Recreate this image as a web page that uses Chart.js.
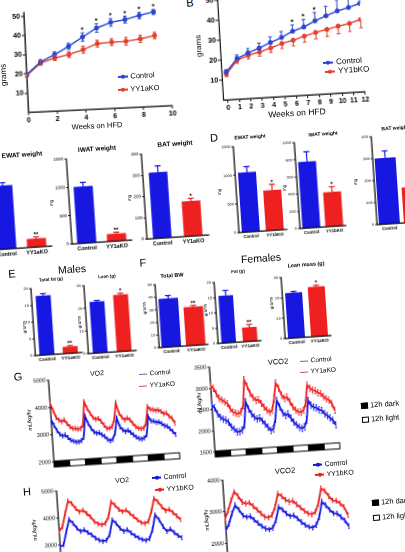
<!DOCTYPE html>
<html>
<head>
<meta charset="utf-8">
<title>YY1 knockout phenotypes</title>
<script src="https://cdn.jsdelivr.net/npm/chart.js@4.4.1/dist/chart.umd.min.js"></script>
<style>
  html, body { margin: 0; padding: 0; background: #fff; }
  body { position: relative; width: 405px; height: 552px; overflow: hidden; font-family: "Liberation Sans", Arial, sans-serif; }
  .pan { position: absolute; }
  .pan canvas { position: absolute; left: 0; top: 0; }
  .txt { position: absolute; white-space: nowrap; line-height: 1; color: #000; }
</style>
</head>
<body>
<script>
// ---------- data ----------
// A: body weight on HFD, YY1aKO males
var weeksA = [0, 1, 2, 3, 4, 5, 6, 7, 8, 9];
var ctrlA = [19.6, 25.9, 29.3, 33.3, 37.8, 42.1, 44.7, 45.8, 47.6, 49.1];
var ctrlErrA = [0.8, 1.2, 1.5, 1.6, 2.2, 2.2, 2.0, 1.8, 1.7, 1.3];
var koA = [19.1, 25.3, 27.6, 29.0, 31.2, 34.0, 34.4, 34.5, 35.4, 36.8];
var koErrA = [0.8, 1.2, 1.3, 1.5, 1.8, 1.8, 1.8, 2.0, 1.9, 1.7];
var starsA = ['', '', '', '', '*', '*', '*', '*', '*', '*'];
var weekTicksA = [0, 2, 4, 6, 8, 10];
var gramTicks = [10, 20, 30, 40, 50];

// B: body weight on HFD, YY1bKO
var weeksB = [0, 1, 2, 3, 4, 5, 6, 7, 8, 9, 10, 11, 12];
var ctrlB = [13.9, 20.3, 22.8, 24.9, 27.3, 29.5, 32.3, 34.1, 36.8, 39.0, 41.1, 42.5, 44.2];
var ctrlErrB = [1.2, 1.8, 2.2, 2.5, 2.8, 3.0, 3.2, 3.8, 4.2, 4.8, 5.5, 5.5, 5.0];
var koB = [12.8, 19.5, 21.6, 22.9, 24.6, 26.5, 27.8, 29.5, 31.0, 32.2, 33.5, 34.5, 36.2];
var koErrB = [1.2, 1.5, 1.8, 2.0, 2.2, 2.5, 2.8, 3.0, 3.2, 3.5, 3.8, 4.0, 4.2];
var starsB = ['', '', '', '', '', '', '*', '*', '*', '', '', '', ''];
var weekTicksB = [0, 1, 2, 3, 4, 5, 6, 7, 8, 9, 10, 11, 12];

// C / D / E / F: fat pad weights and body composition
var groupsA = ['Control', 'YY1aKO'];
var groupsB = ['Control', 'YY1bKO'];
var ewatA = [1120, 150], ewatAErr = [50, 30];
var iwatA = [1000, 130], iwatAErr = [70, 25];
var batA = [310, 165], batAErr = [30, 12];
var ewatB = [1040, 700], ewatBErr = [100, 100];
var iwatB = [770, 400], iwatBErr = [115, 60];
var batB = [300, 160], batBErr = [32, 20];
var fatMale = [17.7, 2.0], fatMaleErr = [0.6, 0.3];
var leanMale = [22.6, 25.0], leanMaleErr = [0.5, 0.6];
var bwFemale = [38.5, 30.6], bwFemaleErr = [2.3, 1.0];
var fatFemale = [15.5, 4.6], fatFemaleErr = [1.7, 0.9];
var leanFemale = [22.2, 24.4], leanFemaleErr = [0.6, 0.7];
var sig1 = ['', '*'], sig2 = ['', '**'];
var mgTicks1500 = [0, 500, 1000, 1500];
var mgTicks1000 = [0, 200, 400, 600, 800, 1000];
var mgTicks400 = [0, 100, 200, 300, 400];
var gTicks20 = [0, 5, 10, 15, 20];
var gTicks30 = [0, 10, 20, 30];
var gTicks50 = [0, 10, 20, 30, 40, 50];

// G: indirect calorimetry, YY1aKO (hours)
var hoursG = [0, 2, 4, 6, 8, 10, 12, 14, 16, 18, 20, 22, 24, 26, 28, 30, 32, 34, 36, 38, 40, 42, 44, 46,
  48, 50, 52, 54, 56, 58, 60, 62, 64, 66, 68, 70, 72, 74, 76, 78, 80, 82, 84, 86, 88, 90, 92, 94];
var vo2CtrlG = [3560, 3340, 3140, 3000, 2930, 2960, 2860, 2760, 2720, 2680, 2680, 2710, 2830, 3600, 3330, 3140,
  3010, 2950, 2960, 2880, 2810, 2700, 2640, 2690, 2910, 3450, 3130, 3010, 2940, 2980, 2890, 2800,
  2710, 2650, 2630, 2660, 2770, 3440, 3270, 3250, 3200, 3210, 3140, 3060, 3030, 2930, 2830, 2710];
var vo2KoG = [4150, 3890, 3620, 3520, 3460, 3510, 3370, 3250, 3180, 3180, 3140, 3160, 3280, 4120, 3880, 3690,
  3530, 3460, 3490, 3370, 3230, 3100, 3100, 3150, 3400, 4000, 3620, 3470, 3370, 3430, 3360, 3220,
  3100, 3030, 3010, 3020, 3190, 3800, 3690, 3670, 3640, 3650, 3590, 3500, 3520, 3390, 3320, 3130];
var vco2CtrlG = [2600, 2540, 2390, 2310, 2260, 2230, 2180, 2060, 2010, 1940, 1940, 1970, 2090, 2630, 2460, 2340,
  2260, 2210, 2230, 2160, 2080, 2000, 1920, 1950, 2180, 2620, 2460, 2310, 2250, 2280, 2180, 2080,
  2010, 1950, 1920, 1950, 2110, 2570, 2450, 2400, 2380, 2330, 2310, 2230, 2180, 2120, 2060, 1950];
var vco2KoG = [3050, 3000, 2870, 2750, 2710, 2660, 2620, 2490, 2410, 2380, 2360, 2400, 2550, 3150, 2990, 2820,
  2720, 2650, 2660, 2570, 2480, 2400, 2350, 2390, 2660, 3030, 2900, 2730, 2650, 2680, 2560, 2440,
  2360, 2310, 2300, 2340, 2500, 2930, 2850, 2800, 2780, 2730, 2710, 2630, 2580, 2540, 2460, 2290];
var phaseEdgesG = [0, 12, 24, 36, 48, 60, 72, 84, 96];
var phaseDarkG = [1, 0, 1, 0, 1, 0, 1, 0];

// H: indirect calorimetry, YY1bKO (hours)
var hoursH = [0, 2, 4, 6, 8, 10, 12, 14, 16, 18, 20, 22, 24, 26, 28, 30, 32, 34,
  36, 38, 40, 42, 44, 46, 48, 50, 52, 54, 56, 58, 60, 62, 64, 66, 68];
var vo2CtrlH = [2930, 3000, 3480, 3920, 3770, 3580, 3450, 3500, 3390, 3300, 3170, 3080, 3030, 3060, 3260, 3800, 3660, 3470,
  3350, 3400, 3270, 3160, 3070, 3000, 2960, 3010, 3340, 3880, 3690, 3430, 3240, 3320, 3180, 3060, 2970];
var vo2KoH = [3500, 3670, 4150, 4600, 4510, 4310, 4180, 4230, 4100, 3970, 3780, 3690, 3640, 3690, 3930, 4470, 4340, 4170,
  4080, 4130, 4000, 3870, 3740, 3630, 3590, 3650, 4010, 4490, 4360, 4160, 4010, 4050, 3920, 3790, 3640];
var vco2CtrlH = [2400, 2610, 2930, 3180, 3030, 2840, 2780, 2800, 2680, 2570, 2460, 2380, 2340, 2390, 2620, 3040, 2940, 2810,
  2720, 2740, 2630, 2510, 2410, 2340, 2310, 2380, 2630, 3110, 2990, 2840, 2720, 2710, 2590, 2470, 2280];
var vco2KoH = [2780, 3030, 3350, 3610, 3460, 3270, 3210, 3230, 3110, 2990, 2870, 2750, 2720, 2790, 3050, 3460, 3370, 3250,
  3180, 3200, 3080, 2970, 2860, 2770, 2730, 2800, 3060, 3530, 3450, 3270, 3130, 3110, 3020, 2900, 2630];
var vo2Ticks = [2000, 3000, 4000, 5000];
var vco2TicksG = [1500, 2000, 2500, 3000, 3500];
var vco2TicksH = [2000, 3000, 4000];

// ---------- styling ----------
var BLUE = '#1717e2';
var RED = '#ee2020';
var LBLUE = '#2a45d2';
var LRED = '#e2412e';
var FAMILY = '"Liberation Sans", Arial, sans-serif';
var TILT = -3.8;

Chart.defaults.font.family = FAMILY;
Chart.defaults.color = '#000';
Chart.defaults.animation = false;
Chart.defaults.events = [];
Chart.defaults.plugins.legend.display = false;
Chart.defaults.plugins.tooltip.enabled = false;

// error bars and significance marks, placed with the y scale
var errorBars = {
  id: 'errorBars',
  afterDatasetsDraw: function (chart) {
    var ctx = chart.ctx;
    var y = chart.scales.y;
    chart.data.datasets.forEach(function (ds, i) {
      if (ds.err == null) return;
      var meta = chart.getDatasetMeta(i);
      meta.data.forEach(function (el, j) {
        var raw = ds.data[j];
        var v = typeof raw === 'object' ? raw.y : raw;
        var e = Array.isArray(ds.err) ? ds.err[j] : ds.err;
        var col = Array.isArray(ds.backgroundColor) ? ds.backgroundColor[j] : ds.borderColor;
        var hi = y.getPixelForValue(v + e);
        var lo = y.getPixelForValue(v - e);
        var dir = ds.errDir || 'both';
        var cap = ds.capW || 2;
        ctx.save();
        ctx.strokeStyle = col;
        ctx.lineWidth = ds.errWidth || 1;
        ctx.beginPath();
        ctx.moveTo(el.x, dir === 'down' ? el.y : hi);
        ctx.lineTo(el.x, dir === 'up' ? el.y : lo);
        if (dir !== 'down') { ctx.moveTo(el.x - cap, hi); ctx.lineTo(el.x + cap, hi); }
        if (dir !== 'up') { ctx.moveTo(el.x - cap, lo); ctx.lineTo(el.x + cap, lo); }
        ctx.stroke();
        if (ds.stars && ds.stars[j]) {
          ctx.fillStyle = '#000';
          ctx.font = 'bold ' + ds.starSize + 'px ' + FAMILY;
          ctx.textAlign = 'center';
          ctx.textBaseline = 'bottom';
          ctx.fillText(ds.stars[j], el.x, (dir === 'down' ? el.y : hi) + 1);
        }
        ctx.restore();
      });
    });
  }
};

// the 12h dark / light strip under the calorimetry traces
function lightDark(edges, dark) {
  return {
    id: 'lightDark',
    afterDraw: function (chart) {
      var ctx = chart.ctx, a = chart.chartArea, x = chart.scales.x;
      ctx.save();
      ctx.strokeStyle = '#000';
      ctx.lineWidth = 1;
      for (var i = 0; i < dark.length; i++) {
        var x1 = x.getPixelForValue(edges[i]);
        var x2 = x.getPixelForValue(edges[i + 1]);
        ctx.fillStyle = dark[i] ? '#000' : '#fff';
        ctx.fillRect(x1, a.bottom - 1, x2 - x1, 6);
        ctx.strokeRect(x1, a.bottom - 1, x2 - x1, 6);
      }
      ctx.restore();
    }
  };
}

function geo(o) {
  return Object.assign({ ml: 16, mr: 4, mt: 6, mb: 10, rot: TILT }, o);
}

// put a chart on the page so that its plot area is centred on (cx, cy)
function mount(g, config) {
  var W = g.ml + g.pw + g.mr, H = g.mt + g.ph + g.mb;
  var box = document.createElement('div');
  box.className = 'pan';
  box.style.left = (g.cx - g.pw / 2 - g.ml) + 'px';
  box.style.top = (g.cy - g.ph / 2 - g.mt) + 'px';
  box.style.width = W + 'px';
  box.style.height = H + 'px';
  box.style.transformOrigin = (g.ml + g.pw / 2) + 'px ' + (g.mt + g.ph / 2) + 'px';
  box.style.transform = 'rotate(' + g.rot + 'deg)';
  var cv = document.createElement('canvas');
  cv.width = W; cv.height = H;
  cv.style.width = W + 'px'; cv.style.height = H + 'px';
  box.appendChild(cv);
  document.body.appendChild(box);
  config.options.responsive = false;
  config.options.devicePixelRatio = 2;
  config.options.layout = { padding: { top: g.mt, right: g.mr, left: 0, bottom: 0 } };
  config.options.scales.x.afterFit = function (s) { s.height = g.mb; };
  config.options.scales.y.afterFit = function (s) { s.width = g.ml; };
  return new Chart(cv, config);
}

function plain(v) { return String(v); }

function yAxis(min, max, ticks, size, bold) {
  return {
    min: min, max: max,
    afterBuildTicks: function (s) { s.ticks = ticks.map(function (v) { return { value: v }; }); },
    grid: { drawOnChartArea: false, color: '#000', tickLength: 2, lineWidth: 0.8 },
    border: { color: '#000', width: 1.2 },
    ticks: { font: { size: size, weight: bold ? 'bold' : 'normal' }, padding: 1, callback: plain }
  };
}

function barPanel(g, groups, vals, errs, stars, yMax, yTicks, barPct, fy, fx) {
  return mount(g, {
    type: 'bar',
    data: {
      labels: groups,
      datasets: [{
        data: vals, backgroundColor: [BLUE, RED], borderWidth: 0,
        barPercentage: barPct, categoryPercentage: 1,
        err: errs, errDir: 'up', errWidth: 1.2, capW: 3, stars: stars, starSize: 6
      }]
    },
    options: {
      scales: {
        x: {
          grid: { display: false, drawTicks: false },
          border: { color: '#000', width: 1.2 },
          ticks: { font: { size: fx, weight: 'bold' }, padding: 2, maxRotation: 0, autoSkip: false }
        },
        y: yAxis(0, yMax, yTicks, fy, false)
      }
    },
    plugins: [errorBars]
  });
}

function growthPanel(g, weeks, ctrl, ctrlErr, ko, koErr, stars, dirs, xMin, xMax, xTicks, starSize) {
  function pts(arr) { return weeks.map(function (w, i) { return { x: w, y: arr[i] }; }); }
  return mount(g, {
    type: 'line',
    data: {
      datasets: [
        { data: pts(ctrl), borderColor: LBLUE, backgroundColor: LBLUE, borderWidth: 1.4, pointRadius: 1.8,
          err: ctrlErr, errDir: dirs[0], capW: 1.8, stars: stars, starSize: starSize },
        { data: pts(ko), borderColor: LRED, backgroundColor: LRED, borderWidth: 1.4, pointRadius: 1.8,
          err: koErr, errDir: dirs[1], capW: 1.8 }
      ]
    },
    options: {
      scales: {
        x: {
          type: 'linear', min: xMin, max: xMax,
          afterBuildTicks: function (s) { s.ticks = xTicks.map(function (v) { return { value: v }; }); },
          grid: { drawOnChartArea: false, color: '#000', tickLength: 3, lineWidth: 0.9 },
          border: { color: '#000', width: 1.3 },
          ticks: { font: { size: 7, weight: 'bold' }, padding: 1, maxRotation: 0, autoSkip: false, callback: plain }
        },
        y: Object.assign(yAxis(0, 52, gramTicks, 7, true), {
          grid: { drawOnChartArea: false, color: '#000', tickLength: 3, lineWidth: 0.9 },
          border: { color: '#000', width: 1.3 }
        })
      }
    },
    plugins: [errorBars]
  });
}

function timePanel(g, hours, ctrl, ko, xMax, yMin, yMax, yTicks, extra) {
  function pts(arr) { return hours.map(function (h, i) { return { x: h, y: arr[i] }; }); }
  return mount(g, {
    type: 'line',
    data: {
      datasets: [
        { data: pts(ko), borderColor: RED, borderWidth: 1.8, pointRadius: 0, err: 75, errDir: 'both', errWidth: 0.8, capW: 0.8 },
        { data: pts(ctrl), borderColor: BLUE, borderWidth: 1.8, pointRadius: 0, err: 75, errDir: 'both', errWidth: 0.8, capW: 0.8 }
      ]
    },
    options: {
      scales: {
        x: { type: 'linear', min: 0, max: xMax, ticks: { display: false },
             grid: { display: false, drawTicks: false }, border: { display: false } },
        y: yAxis(yMin, yMax, yTicks, 5.5, false)
      }
    },
    plugins: [errorBars].concat(extra || [])
  });
}

// ---------- text helpers ----------
function txt(s, x, y, size, rot, bold) {
  var d = document.createElement('div');
  d.className = 'txt';
  d.textContent = s;
  d.style.fontSize = size + 'px';
  if (bold) d.style.fontWeight = 'bold';
  d.style.left = x + 'px';
  d.style.top = y + 'px';
  d.style.transform = 'translate(-50%,-50%) rotate(' + rot + 'deg)';
  document.body.appendChild(d);
}

function key(label, x, y, color, size, rot, dot) {
  var d = document.createElement('div');
  d.className = 'txt';
  d.style.fontSize = size + 'px';
  d.style.left = x + 'px';
  d.style.top = (y - size / 2) + 'px';
  d.style.transformOrigin = '0 50%';
  d.style.transform = 'rotate(' + rot + 'deg)';
  var m = document.createElement('span');
  m.style.cssText = 'display:inline-block;position:relative;vertical-align:middle;width:' + (size * 1.3) +
    'px;height:1.4px;margin-right:' + (size * 0.35) + 'px;background:' + color;
  if (dot) {
    var c = document.createElement('span');
    c.style.cssText = 'position:absolute;left:50%;top:50%;width:4px;height:4px;margin:-2px 0 0 -2px;border-radius:50%;background:' + color;
    m.appendChild(c);
  }
  d.appendChild(m);
  d.appendChild(document.createTextNode(label));
  document.body.appendChild(d);
}

function phaseKey(label, x, y, size, fill) {
  var d = document.createElement('div');
  d.className = 'txt';
  d.style.fontSize = size + 'px';
  d.style.left = x + 'px';
  d.style.top = (y - size / 2) + 'px';
  d.style.transformOrigin = '0 50%';
  d.style.transform = 'rotate(' + TILT + 'deg)';
  var m = document.createElement('span');
  m.style.cssText = 'display:inline-block;vertical-align:middle;width:5px;height:4px;margin-right:2px;border:1px solid #000;background:' + fill;
  d.appendChild(m);
  d.appendChild(document.createTextNode(label));
  document.body.appendChild(d);
}

// ---------- A and B ----------
growthPanel(geo({ cx: 97.5, cy: 59.3, pw: 144, ph: 100.4, ml: 22, mr: 8, mt: 6, mb: 16, rot: -2.7 }),
  weeksA, ctrlA, ctrlErrA, koA, koErrA, starsA, ['both', 'both'], 0, 10, weekTicksA, 7);
growthPanel(geo({ cx: 290.25, cy: 43.6, pw: 141.5, ph: 104, ml: 22, mr: 8, mt: 6, mb: 16, rot: -3.4 }),
  weeksB, ctrlB, ctrlErrB, koB, koErrB, starsB, ['up', 'down'], -0.4, 12, weekTicksB, 7.5);

txt('B', 190, 3, 11, -3.4, false);
txt('grams', 4, 75, 8, -92.7, false);
txt('Weeks on HFD', 97, 126, 7.5, -2.7, false);
txt('grams', 199, 46, 8, -93.4, false);
txt('Weeks on HFD', 297, 113, 8.5, -3.4, false);
key('Control', 118, 77, LBLUE, 7.5, -2.7, true);
key('YY1aKO', 118, 90, LRED, 7.5, -2.7, true);
key('Control', 323, 63, LBLUE, 8, -3.4, true);
key('YY1bKO', 325, 72, LRED, 8, -3.4, true);

// ---------- C (YY1aKO fat pads) ----------
barPanel(geo({ cx: 19, cy: 205.5, pw: 60, ph: 85 }), groupsA, ewatA, ewatAErr, sig2, 1500, mgTicks1500, 0.64, 4.5, 5.5);
barPanel(geo({ cx: 99, cy: 199.5, pw: 60, ph: 85 }), groupsA, iwatA, iwatAErr, sig2, 1500, mgTicks1500, 0.64, 4.5, 5.5);
barPanel(geo({ cx: 175, cy: 194.5, pw: 62, ph: 85 }), groupsA, batA, batAErr, sig1, 400, mgTicks400, 0.6, 4.5, 5.5);
txt('EWAT weight', 22, 155, 6.5, TILT, true);
txt('IWAT weight', 97, 149, 6.5, TILT, true);
txt('BAT weight', 175, 144, 6.5, TILT, true);
txt('mg', 52, 203, 4.5, TILT - 90, false);
txt('mg', 130, 198, 4.5, TILT - 90, false);

// ---------- D (YY1bKO fat pads) ----------
barPanel(geo({ cx: 260, cy: 188, pw: 48, ph: 86 }), groupsB, ewatB, ewatBErr, sig1, 1500, mgTicks1500, 0.75, 4, 4.3);
barPanel(geo({ cx: 320, cy: 184.4, pw: 46, ph: 86 }), groupsB, iwatB, iwatBErr, sig1, 1000, mgTicks1000, 0.78, 4, 4.3);
barPanel(geo({ cx: 399, cy: 179.4, pw: 50, ph: 88 }), groupsB, batB, batBErr, ['', ''], 400, mgTicks400, 0.84, 4, 4.3);
txt('D', 214, 138, 11, TILT, false);
txt('EWAT weight', 250, 137, 5, TILT, true);
txt('IWAT weight', 323, 134, 5, TILT, true);
txt('BAT weight', 395, 128, 5, TILT, true);
txt('mg', 220, 192, 4.5, TILT - 90, false);
txt('mg', 285, 188, 4.5, TILT - 90, false);
txt('mg', 356, 182, 4.5, TILT - 90, false);

// ---------- E (males) and F (females) ----------
barPanel(geo({ cx: 56.5, cy: 320, pw: 47, ph: 67 }), groupsA, fatMale, fatMaleErr, sig2, 20, gTicks20, 0.64, 4, 4.8);
barPanel(geo({ cx: 110, cy: 317.5, pw: 48, ph: 68 }), groupsA, leanMale, leanMaleErr, sig1, 30, gTicks30, 0.62, 4, 4.8);
barPanel(geo({ cx: 181.5, cy: 314.9, pw: 49, ph: 63 }), groupsA, bwFemale, bwFemaleErr, sig2, 50, gTicks50, 0.8, 4, 4.6);
barPanel(geo({ cx: 237.5, cy: 311.2, pw: 43, ph: 61 }), groupsA, fatFemale, fatFemaleErr, sig2, 20, gTicks20, 0.68, 4, 4.6);
barPanel(geo({ cx: 306, cy: 306.9, pw: 46, ph: 61 }), groupsA, leanFemale, leanFemaleErr, sig1, 30, gTicks30, 0.74, 4, 4.6);
txt('E', 12, 274, 11, TILT, false);
txt('Males', 72, 269, 10.5, TILT, false);
txt('Total fat (g)', 51, 280, 4.5, TILT, true);
txt('Lean (g)', 107, 277, 4.5, TILT, true);
txt('grams', 25, 327, 4.5, TILT - 90, false);
txt('grams', 80, 322, 4.5, TILT - 90, false);
txt('F', 143, 263, 11, TILT, false);
txt('Females', 261, 258, 10.5, TILT, false);
txt('Total BW', 172, 276, 5.5, TILT, true);
txt('Fat (g)', 238, 272, 4.5, TILT, true);
txt('Lean mass (g)', 306, 265, 5.5, TILT, true);
txt('grams', 145, 308, 4.5, TILT - 90, false);
txt('grams', 206, 310, 4.5, TILT - 90, false);
txt('grams', 272, 303, 4.5, TILT - 90, false);

// ---------- G (YY1aKO calorimetry) ----------
timePanel(geo({ cx: 114, cy: 416.8, pw: 126, ph: 82, ml: 20, mr: 4, mt: 5, mb: 8 }),
  hoursG, vo2CtrlG, vo2KoG, 96, 2000, 5000, vo2Ticks, [lightDark(phaseEdgesG, phaseDarkG)]);
timePanel(geo({ cx: 274, cy: 405.3, pw: 125, ph: 85, ml: 20, mr: 4, mt: 5, mb: 8 }),
  hoursG, vco2CtrlG, vco2KoG, 96, 1500, 3500, vco2TicksG, [lightDark(phaseEdgesG, phaseDarkG)]);
txt('G', 18, 377, 11, TILT, false);
txt('VO2', 97, 373, 7, TILT, false);
txt('VCO2', 278, 362, 7.5, TILT, false);
txt('mL/kg/hr', 30, 420, 5.5, TILT - 90, false);
txt('mL/kg/hr', 200, 403, 5.5, TILT - 90, false);
key('Control', 139, 374, '#5a6fb0', 6.5, TILT, false);
key('YY1aKO', 139, 386, '#c05a55', 6.5, TILT, false);
key('Control', 300, 361, '#5a6fb0', 6.5, TILT, false);
key('YY1aKO', 300, 372, '#c05a55', 6.5, TILT, false);
phaseKey('12h dark', 361, 406, 7.5, '#000');
phaseKey('12h light', 362, 420, 7.5, '#fff');

// ---------- H (YY1bKO calorimetry) ----------
timePanel(geo({ cx: 120, cy: 527.5, pw: 122, ph: 81, ml: 20, mr: 4, mt: 5, mb: 8 }),
  hoursH, vo2CtrlH, vo2KoH, 68, 2000, 5000, vo2Ticks, []);
timePanel(geo({ cx: 286.5, cy: 515.25, pw: 123, ph: 78.5, ml: 20, mr: 4, mt: 5, mb: 8 }),
  hoursH, vco2CtrlH, vco2KoH, 68, 1500, 4000, vco2TicksH, []);
txt('H', 27, 492, 11, TILT, false);
txt('VO2', 122, 480, 7, TILT, false);
txt('VCO2', 285, 471, 7.5, TILT, false);
txt('mL/kg/hr', 35, 530, 5.5, TILT - 90, false);
txt('mL/kg/hr', 207, 520, 5.5, TILT - 90, false);
key('Control', 152, 477, BLUE, 7, TILT, true);
key('YY1bKO', 155, 489, RED, 7, TILT, true);
key('Control', 313, 464, BLUE, 7, TILT, true);
key('YY1bKO', 315, 474, RED, 7, TILT, true);
phaseKey('12h dark', 372, 503, 7.5, '#000');
phaseKey('12h light', 373, 518, 7.5, '#fff');
</script>
</body>
</html>
